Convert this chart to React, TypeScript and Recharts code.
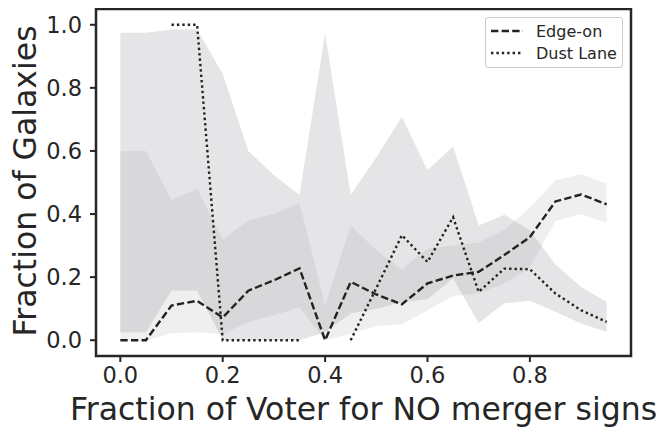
import {
  ComposedChart,
  Area,
  Line,
  XAxis,
  YAxis,
  Legend,
  ReferenceArea,
} from "recharts";

// fraction of voters answering "no merger signs" (bin centres)
const voterFraction = [0, 0.05, 0.1, 0.15, 0.2, 0.25, 0.3, 0.35, 0.4, 0.45, 0.5, 0.55, 0.6, 0.65, 0.7, 0.75, 0.8, 0.85, 0.9, 0.95];

const edgeOn = [0, 0, 0.11, 0.125, 0.072, 0.157, 0.19, 0.228, 0, 0.185, 0.145, 0.114, 0.18, 0.205, 0.217, 0.27, 0.327, 0.44, 0.462, 0.431];
const edgeOnLow = [0, 0, 0.022, 0.025, 0.02, 0.058, 0.079, 0.104, 0, 0.02, 0.045, 0.05, 0.095, 0.14, 0.15, 0.18, 0.23, 0.378, 0.4, 0.372];
const edgeOnHigh = [0.6, 0.6, 0.444, 0.48, 0.319, 0.38, 0.4, 0.435, 0.11, 0.364, 0.285, 0.224, 0.29, 0.3, 0.31, 0.35, 0.42, 0.507, 0.526, 0.497];

const dustLane = [null, null, 1, 1, 0, 0, 0, 0, null, 0, 0.165, 0.333, 0.248, 0.39, 0.153, 0.227, 0.225, 0.148, 0.095, 0.058];
const dustLaneLow = [0.025, 0.025, 0.158, 0.158, 0, 0, 0, 0, 0.025, 0.085, 0.1, 0.12, 0.13, 0.196, 0.055, 0.117, 0.125, 0.09, 0.053, 0.026];
const dustLaneHigh = [0.975, 0.975, 0.985, 0.985, 0.845, 0.6, 0.523, 0.46, 0.972, 0.46, 0.58, 0.708, 0.539, 0.615, 0.364, 0.398, 0.349, 0.24, 0.169, 0.121];

const xTicks = [0, 0.2, 0.4, 0.6, 0.8];
const yTicks = [0, 0.2, 0.4, 0.6, 0.8, 1.0];

const legendItems = [
  { name: "Edge-on", dash: "7.4 3.2" },
  { name: "Dust Lane", dash: "2.4 3" },
];

const data = voterFraction.map((x, i) => ({
  x,
  edgeOn: edgeOn[i],
  edgeBand: [edgeOnLow[i], edgeOnHigh[i]],
  dustLane: dustLane[i],
  dustBand: [dustLaneLow[i], dustLaneHigh[i]],
}));

const FONT = "DejaVu Sans";
const INK = "#262626";
const X_DOMAIN = [-0.0475, 0.9975];
const Y_DOMAIN = [-0.05, 1.05];

function LegendBox() {
  return (
    <div
      style={{
        width: 136,
        height: 49,
        border: "1px solid #cccccc",
        borderRadius: 3,
        background: "rgba(255,255,255,0.8)",
        fontFamily: FONT,
        fontSize: 16,
        color: INK,
        boxSizing: "content-box",
      }}
    >
      {legendItems.map((item, i) => (
        <div key={item.name} style={{ position: "absolute", left: 6, top: 3 + i * 22, height: 22, display: "flex", alignItems: "center" }}>
          <svg width={32} height={6} style={{ marginRight: 13 }}>
            <line x1={0} y1={3} x2={32} y2={3} stroke="#222" strokeWidth={2.4} strokeDasharray={item.dash} />
          </svg>
          <span>{item.name}</span>
        </div>
      ))}
    </div>
  );
}

export default function App() {
  return (
    <div style={{ width: 657, height: 420, position: "relative" }}>
      <ComposedChart width={657} height={420} data={data} margin={{ top: 1, right: 34, bottom: 0, left: 0 }}>
        <XAxis
          dataKey="x"
          type="number"
          domain={X_DOMAIN}
          allowDataOverflow
          ticks={xTicks}
          tickFormatter={(v: number) => v.toFixed(1)}
          height={72}
          axisLine={false}
          tickLine={{ stroke: INK, strokeWidth: 2 }}
          tickSize={6}
          tickMargin={5}
          tick={{ fontSize: 22.5, fill: INK, fontFamily: FONT }}
          label={{
            content: () => (
              <text x={355.5} y={412} textAnchor="middle" fontSize={31.5} fontFamily={FONT} fill={INK}>
                Fraction of Voter for NO merger signs
              </text>
            ),
          }}
        />
        <YAxis
          type="number"
          domain={Y_DOMAIN}
          allowDataOverflow
          ticks={yTicks}
          tickFormatter={(v: number) => v.toFixed(1)}
          width={88}
          axisLine={false}
          tickLine={{ stroke: INK, strokeWidth: 2 }}
          tickSize={6}
          tickMargin={8}
          tick={{ fontSize: 22.5, fill: INK, fontFamily: FONT }}
          label={{
            content: () => (
              <text
                transform="translate(17,173) rotate(-90)"
                textAnchor="middle"
                dominantBaseline="central"
                fontSize={31.5}
                fontFamily={FONT}
                fill={INK}
              >
                Fraction of Galaxies
              </text>
            ),
          }}
        />
        <Area
          type="linear"
          dataKey="edgeBand"
          stroke="none"
          fill="#7f8188"
          fillOpacity={0.126}
          isAnimationActive={false}
          legendType="none"
        />
        <Area
          type="linear"
          dataKey="dustBand"
          stroke="none"
          fill="#7f8188"
          fillOpacity={0.205}
          isAnimationActive={false}
          legendType="none"
        />
        <Line
          type="linear"
          dataKey="edgeOn"
          name="Edge-on"
          stroke="#222"
          strokeWidth={2.4}
          strokeDasharray="7.4 3.2"
          dot={false}
          isAnimationActive={false}
        />
        <Line
          type="linear"
          dataKey="dustLane"
          name="Dust Lane"
          stroke="#222"
          strokeWidth={2.4}
          strokeDasharray="2.4 3"
          dot={false}
          connectNulls={false}
          isAnimationActive={false}
        />
        <ReferenceArea
          x1={X_DOMAIN[0]}
          x2={X_DOMAIN[1]}
          y1={Y_DOMAIN[0]}
          y2={Y_DOMAIN[1]}
          fill="none"
          stroke={INK}
          strokeWidth={2.5}
          ifOverflow="visible"
        />
        <Legend
          layout="vertical"
          verticalAlign="middle"
          align="center"
          wrapperStyle={{ top: 9, left: 477, width: 138, height: 51 }}
          content={() => <LegendBox />}
        />
      </ComposedChart>
    </div>
  );
}
